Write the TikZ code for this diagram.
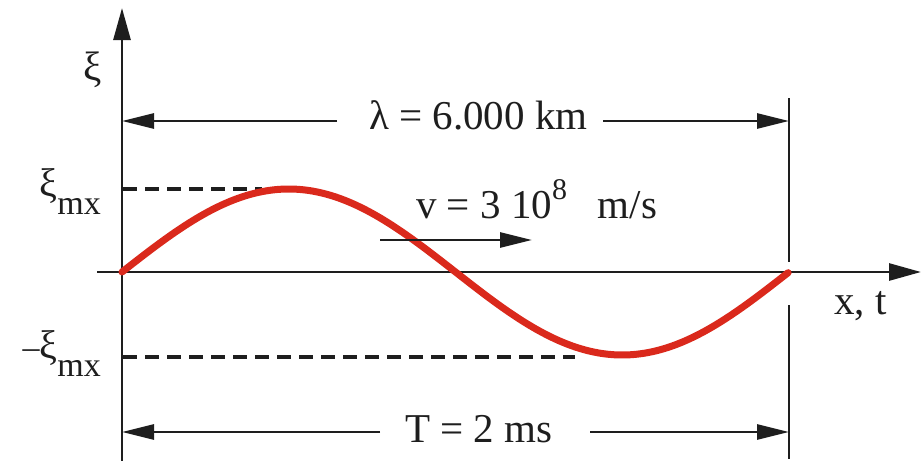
\documentclass[tikz,border=0pt]{standalone}
\usepackage{fontspec}
\setmainfont{Liberation Serif}
\usetikzlibrary{arrows.meta}
\definecolor{wavered}{RGB}{218,41,28}
\definecolor{ink}{RGB}{30,30,30}
\begin{document}
\begin{tikzpicture}[x=1pt,y=-1pt,
  axisline/.style={draw=ink,line width=2.8pt},
  axisarrow/.style={axisline,-{Triangle[length=32pt,width=17pt]}},
  dimarrow/.style={axisline,-{Triangle[length=32pt,width=15pt]}},
  dashline/.style={draw=ink,line width=4pt,dash pattern=on 14pt off 8pt},
  wave/.style={draw=wavered,line width=7pt,line cap=round},
  lbl/.style={inner sep=0pt,font=\fontsize{41}{46}\selectfont,text=ink},
  sublbl/.style={inner sep=0pt,font=\fontsize{34}{38}\selectfont,text=ink}]
\useasboundingbox (0,0) rectangle (922,461);
% axes
\coordinate (ybot) at (122,461);
\coordinate (ytop) at (122,8);
\coordinate (xleft) at (97,272);
\coordinate (xright) at (921,272);
\draw[axisarrow] (ybot) -- (ytop);
\draw[axisarrow] (xleft) -- (xright);
% right marker lines
\coordinate (rt1) at (789,98);
\coordinate (rt2) at (789,262);
\coordinate (rb1) at (789,305);
\coordinate (rb2) at (789,459);
\draw[axisline] (rt1) -- (rt2);
\draw[axisline] (rb1) -- (rb2);
% dashed amplitude lines
\coordinate (dA1) at (123,189);
\coordinate (dA2) at (262,189);
\coordinate (dB1) at (123,357);
\coordinate (dB2) at (575,357);
\draw[dashline] (dA1) -- (dA2);
\draw[dashline] (dB1) -- (dB2);
% wave
\draw[wave] plot[domain=0:1,samples=120,smooth] ({122+667*\x},{272-83*sin(360*\x)});
% lambda dimension
\node[lbl,anchor=base west] (lam) at (369,129) {λ = 6.000 km};
\coordinate (lamGL) at (337,121);
\coordinate (lamGR) at (603,121);
\coordinate (lamL) at (122,121);
\coordinate (lamR) at (789,121);
\draw[dimarrow] (lamGL) -- (lamL);
\draw[dimarrow] (lamGR) -- (lamR);
% T dimension
\node[lbl,anchor=base west] (per) at (405,442) {T = 2 ms};
\coordinate (perGL) at (380,432);
\coordinate (perGR) at (590,432);
\coordinate (perL) at (122,432);
\coordinate (perR) at (789,432);
\draw[dimarrow] (perGL) -- (perL);
\draw[dimarrow] (perGR) -- (perR);
% velocity
\node[lbl,anchor=base west] (vel) at (416,218) {v = 3 10\raisebox{0.45em}{\fontsize{30}{34}\selectfont 8}\hspace{0.75em}m/s};
\coordinate (v1) at (380,240);
\coordinate (v2) at (532,240);
\draw[dimarrow] (v1) -- (v2);
% labels
\node[lbl] (xi) at (93,70) {ξ};
\node[sublbl,anchor=base east] (ximx) at (101,196) {{\fontsize{40}{44}\selectfont ξ}\raisebox{-0.55em}{mx}};
\node[sublbl,anchor=base east] (nximx) at (101,358) {–{\fontsize{40}{44}\selectfont ξ}\raisebox{-0.55em}{mx}};
\node[lbl,anchor=base west] (xt) at (834,314) {x, t};
\end{tikzpicture}
\end{document}
